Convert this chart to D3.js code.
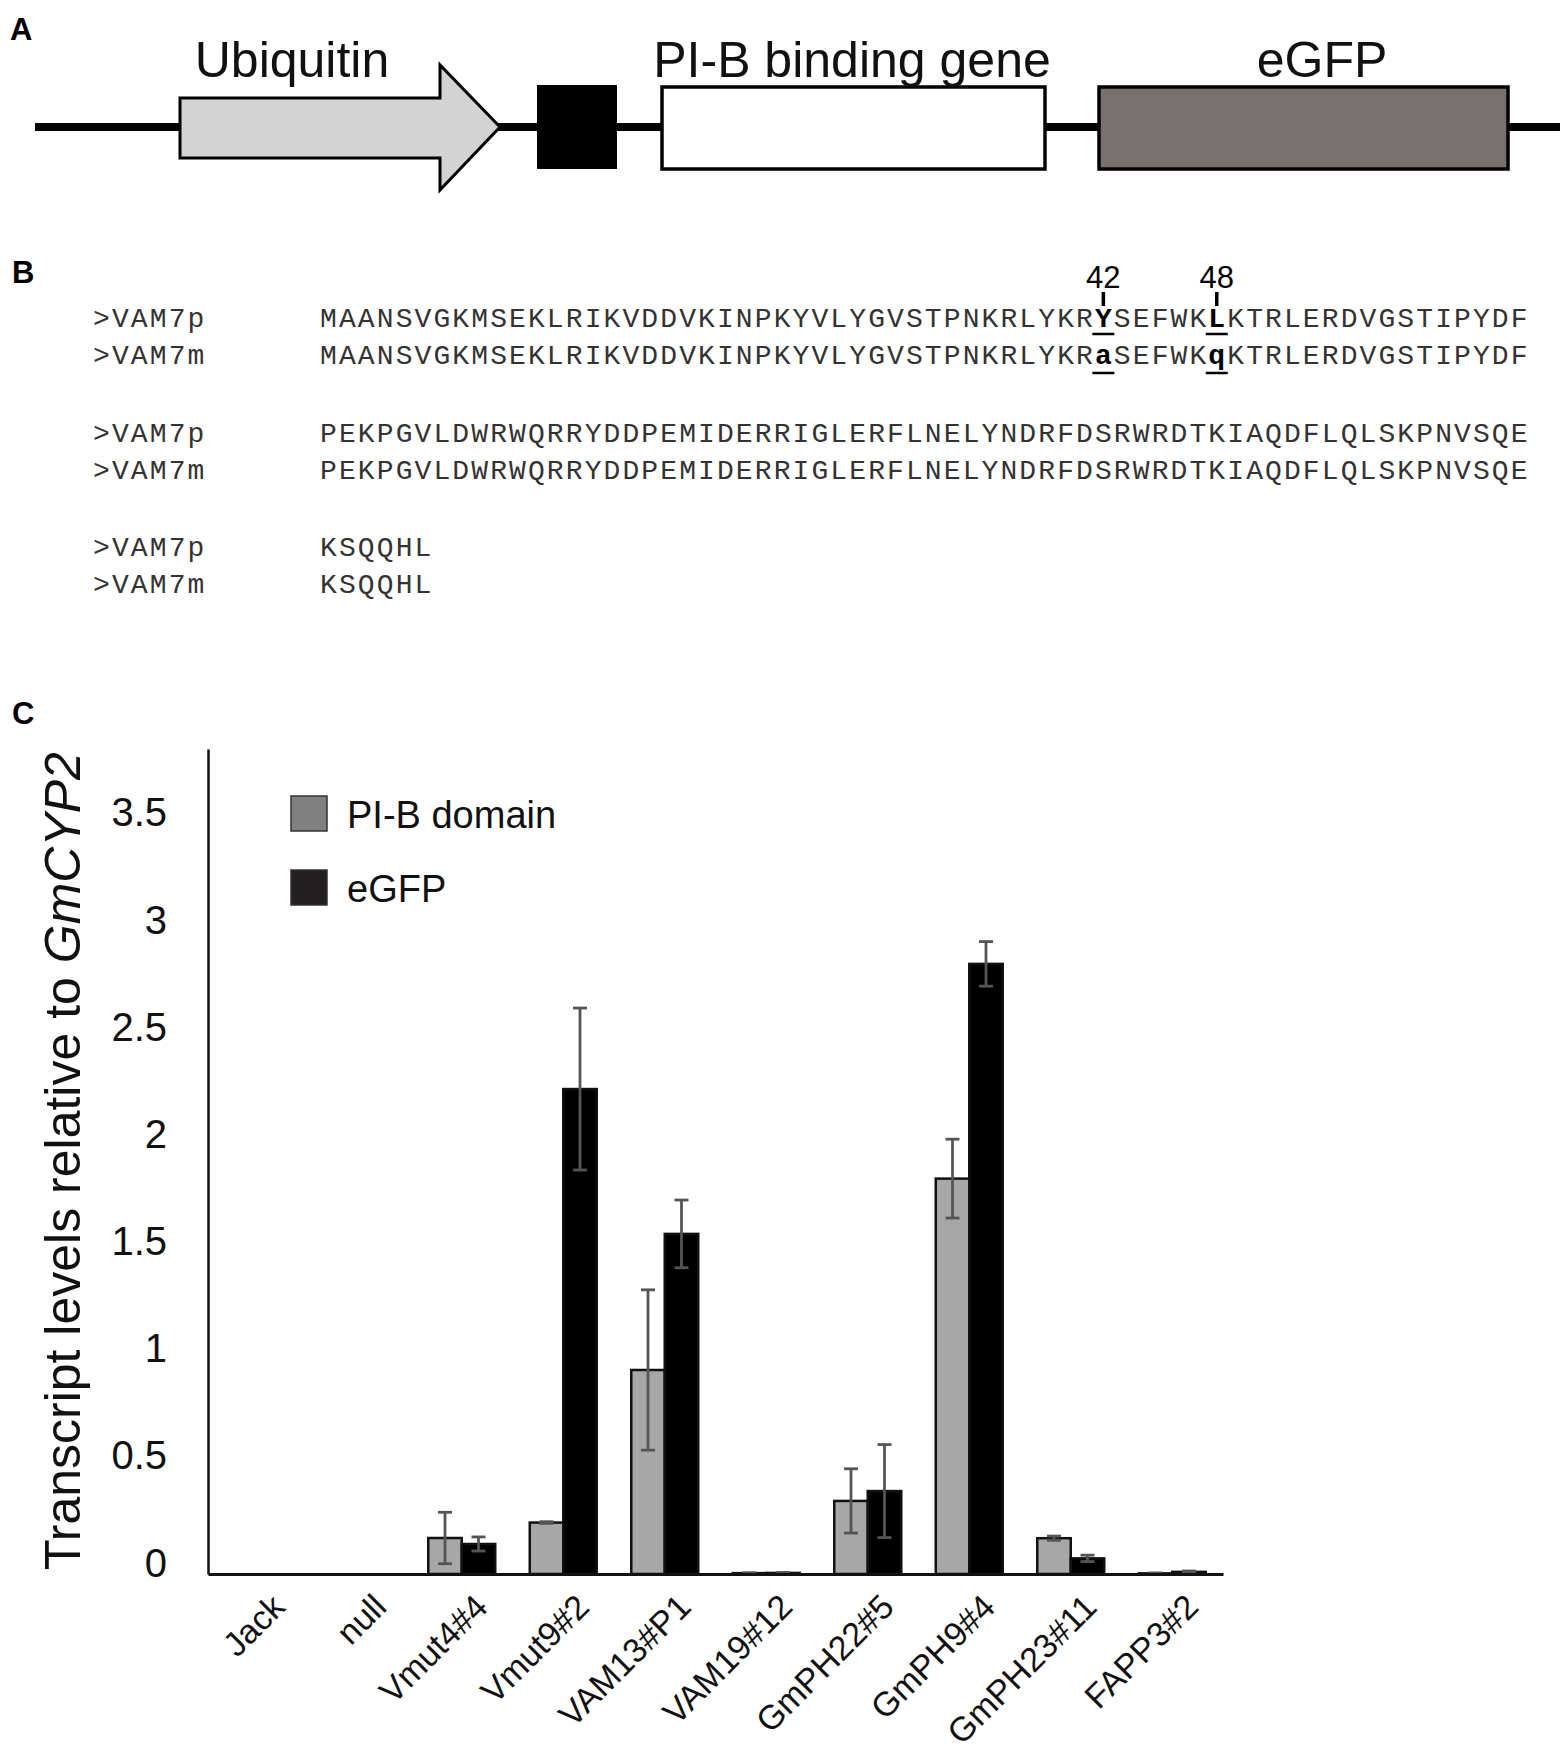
<!DOCTYPE html>
<html>
<head>
<meta charset="utf-8">
<script src="https://cdn.jsdelivr.net/npm/d3@7/dist/d3.min.js"></script>
<style>
  html, body { margin: 0; padding: 0; background: #fff; }
  svg { display: block; }
</style>
</head>
<body>
<svg id="canvas"></svg>
<script>
// ---- data ----
let categories = ["Jack", "null", "Vmut4#4", "Vmut9#2", "VAM13#P1", "VAM19#12", "GmPH22#5", "GmPH9#4", "GmPH23#11", "FAPP3#2"];
let pibValues  = [0, 0, 0.168, 0.240, 0.952, 0.004, 0.341, 1.845, 0.167, 0.003];
let pibErrors  = [0, 0, 0.120, 0.004, 0.374, 0.002, 0.150, 0.184, 0.010, 0.002];
let egfpValues = [0, 0, 0.140, 2.263, 1.587, 0.005, 0.387, 2.847, 0.073, 0.010];
let egfpErrors = [0, 0, 0.033, 0.378, 0.158, 0.002, 0.217, 0.104, 0.015, 0.004];
let seriesNames = ["PI-B domain", "eGFP"];
let yTicks = [0, 0.5, 1, 1.5, 2, 2.5, 3, 3.5];

let seqNames = [">VAM7p", ">VAM7m"];
let seqP = ["MAANSVGKMSEKLRIKVDDVKINPKYVLYGVSTPNKRLYKRYSEFWKLKTRLERDVGSTIPYDF",
            "PEKPGVLDWRWQRRYDDPEMIDERRIGLERFLNELYNDRFDSRWRDTKIAQDFLQLSKPNVSQE",
            "KSQQHL"];
let seqM = ["MAANSVGKMSEKLRIKVDDVKINPKYVLYGVSTPNKRLYKRaSEFWKqKTRLERDVGSTIPYDF",
            "PEKPGVLDWRWQRRYDDPEMIDERRIGLERFLNELYNDRFDSRWRDTKIAQDFLQLSKPNVSQE",
            "KSQQHL"];
let mutSites = [42, 48];
let constructParts = ["Ubiquitin", "PI-B binding gene", "eGFP"];

let width = 1562;
let height = 1754;
let sans = "'Liberation Sans', Arial, Helvetica, sans-serif";
let mono = "'Liberation Mono', 'Courier New', monospace";

let svg = d3.select('#canvas').attr('width', width).attr('height', height);
svg.append('rect').attr('width', width).attr('height', height).attr('fill', '#fff');

let panelLabel = (t, x, y) => {
  svg.append('text').text(t).attr('x', x).attr('y', y)
     .attr('font-family', sans).attr('font-weight', 'bold').attr('font-size', 31).attr('fill', '#000');
}

// ---- panel A: construct ----
let drawConstruct = () => {
  panelLabel('A', 10, 40);
  let g = svg.append('g');
  g.append('line').attr('x1', 35).attr('x2', 1560).attr('y1', 127).attr('y2', 127)
   .attr('stroke', '#000').attr('stroke-width', 8);
  g.append('path')
   .attr('d', 'M180,98 L440,98 L440,65 L500,127 L440,190 L440,158 L180,158 Z')
   .attr('fill', '#d3d3d3').attr('stroke', '#000').attr('stroke-width', 3);
  g.append('rect').attr('x', 537).attr('y', 85).attr('width', 80).attr('height', 84).attr('fill', '#000');
  g.append('rect').attr('x', 662).attr('y', 87).attr('width', 383).attr('height', 82)
   .attr('fill', '#fff').attr('stroke', '#000').attr('stroke-width', 3.5);
  g.append('rect').attr('x', 1099).attr('y', 87).attr('width', 409).attr('height', 82)
   .attr('fill', '#78716f').attr('stroke', '#000').attr('stroke-width', 3.5);
  let labelX = [292, 852, 1322];
  g.selectAll('text.part').data(constructParts).enter().append('text')
   .attr('class', 'part')
   .attr('x', (d, i) => labelX[i]).attr('y', 77)
   .attr('text-anchor', 'middle')
   .attr('font-family', sans).attr('font-size', 50).attr('fill', '#111')
   .text(d => d);
}

// ---- panel B: alignment ----
let drawAlignment = () => {
  panelLabel('B', 12, 283);
  let charW = 18.9;
  let seqX = 319;
  let nameX = 92;
  let blockY = [327, 442, 556];
  let pairGap = 37;

  let putChars = (str, x0, y, boldIdx) => {
    let chars = str.split('').map((c, i) => ({c: c, i: i}));
    svg.append('g').selectAll('text').data(chars).enter().append('text')
       .attr('x', d => x0 + d.i * charW + charW / 2)
       .attr('y', y)
       .attr('text-anchor', 'middle')
       .attr('font-family', mono)
       .attr('font-size', 28)
       .attr('font-weight', d => boldIdx.includes(d.i) ? 'bold' : 'normal')
       .attr('fill', d => boldIdx.includes(d.i) ? '#000' : '#333')
       .text(d => d.c);
  }

  blockY.forEach((y, b) => {
    putChars(seqNames[0], nameX, y, []);
    putChars(seqNames[1], nameX, y + pairGap, []);
    let bold = b === 0 ? mutSites.map(s => s - 1) : [];
    putChars(seqP[b], seqX, y, bold);
    putChars(seqM[b], seqX, y + pairGap, bold);
  });

  // site markers
  mutSites.forEach(s => {
    let cx = seqX + (s - 1) * charW + charW / 2;
    svg.append('text').text(s).attr('x', cx).attr('y', 288)
       .attr('text-anchor', 'middle').attr('font-family', sans).attr('font-size', 31).attr('fill', '#000');
    svg.append('line').attr('x1', cx).attr('x2', cx).attr('y1', 292).attr('y2', 306)
       .attr('stroke', '#000').attr('stroke-width', 3.5);
    [334, 373].forEach(uy => {
      svg.append('line').attr('x1', cx - 11).attr('x2', cx + 11).attr('y1', uy).attr('y2', uy)
         .attr('stroke', '#000').attr('stroke-width', 2.5);
    });
  });
}

// ---- panel C: bar chart ----
let xScale, xSub, yScale;
let left = 208, right = 1223, bottom = 1574;

let generateScales = () => {
  xScale = d3.scaleBand().domain(categories).range([left, right]).paddingInner(0.34).paddingOuter(0.17);
  xSub = d3.scaleBand().domain(seriesNames).range([0, xScale.bandwidth()]);
  yScale = d3.scaleLinear().domain([0, 3.85]).range([bottom, bottom - 3.85 * 214.3]);
}

let drawBars = () => {
  let rows = [];
  categories.forEach((c, i) => {
    rows.push({cat: c, s: seriesNames[0], v: pibValues[i], e: pibErrors[i]});
    rows.push({cat: c, s: seriesNames[1], v: egfpValues[i], e: egfpErrors[i]});
  });
  rows = rows.filter(d => d.v > 0);
  let fills = {"PI-B domain": '#a7a7a7', "eGFP": '#000'};

  svg.append('g').selectAll('rect').data(rows).enter().append('rect')
     .attr('x', d => xScale(d.cat) + xSub(d.s))
     .attr('y', d => yScale(d.v))
     .attr('width', xSub.bandwidth())
     .attr('height', d => yScale(0) - yScale(d.v))
     .attr('fill', d => fills[d.s])
     .attr('stroke', '#111')
     .attr('stroke-width', 2.5);

  let err = svg.append('g').attr('stroke', '#555').attr('stroke-width', 2.8);
  rows.filter(d => d.e > 0).forEach(d => {
    let cx = xScale(d.cat) + xSub(d.s) + xSub.bandwidth() / 2;
    let y1 = yScale(d.v + d.e), y2 = yScale(Math.max(0, d.v - d.e));
    err.append('line').attr('x1', cx).attr('x2', cx).attr('y1', y1).attr('y2', y2);
    err.append('line').attr('x1', cx - 7).attr('x2', cx + 7).attr('y1', y1).attr('y2', y1);
    err.append('line').attr('x1', cx - 7).attr('x2', cx + 7).attr('y1', y2).attr('y2', y2);
  });
}

let drawAxis = () => {
  let yAxis = d3.axisLeft(yScale).tickValues(yTicks).tickSize(0).tickSizeOuter(0).tickPadding(41).tickFormat(d3.format('~g'));
  let gy = svg.append('g').attr('transform', 'translate(' + left + ',0)').call(yAxis);
  gy.select('.domain').attr('stroke', '#111').attr('stroke-width', 2.5);
  gy.selectAll('text').attr('font-family', sans).attr('font-size', 40).attr('fill', '#111')
    .attr('dy', '0.35em').attr('transform', 'translate(0,-12)');

  let xAxis = d3.axisBottom(xScale).tickSize(0).tickSizeOuter(0).tickFormat('');
  let gx = svg.append('g').attr('transform', 'translate(0,' + bottom + ')').call(xAxis);
  gx.select('.domain').attr('stroke', '#111').attr('stroke-width', 3);

  svg.append('g').selectAll('text').data(categories).enter().append('text')
     .attr('transform', d => 'translate(' + (xScale(d) + xScale.bandwidth() / 2 + 28) + ',' + (bottom + 35) + ') rotate(-45)')
     .attr('text-anchor', 'end')
     .attr('font-family', sans).attr('font-size', 34).attr('fill', '#111')
     .text(d => d);

  let title = svg.append('text')
     .attr('transform', 'translate(80,1161) rotate(-90)')
     .attr('text-anchor', 'middle')
     .attr('font-family', sans).attr('font-size', 50).attr('fill', '#111');
  title.append('tspan').text('Transcript levels relative to ');
  title.append('tspan').attr('font-style', 'italic').text('GmCYP2');
}

let drawLegend = () => {
  let legFill = ['#808080', '#231f20'];
  let legY = [796, 870];
  let lg = svg.append('g');
  seriesNames.forEach((s, i) => {
    lg.append('rect').attr('x', 291).attr('y', legY[i]).attr('width', 36).attr('height', 35)
      .attr('fill', legFill[i]).attr('stroke', '#333').attr('stroke-width', 1.5);
    lg.append('text').text(s).attr('x', 347).attr('y', legY[i] + 32)
      .attr('font-family', sans).attr('font-size', 38).attr('fill', '#111');
  });
}

drawConstruct();
drawAlignment();
panelLabel('C', 12, 724);
generateScales();
drawBars();
drawAxis();
drawLegend();
</script>
</body>
</html>
